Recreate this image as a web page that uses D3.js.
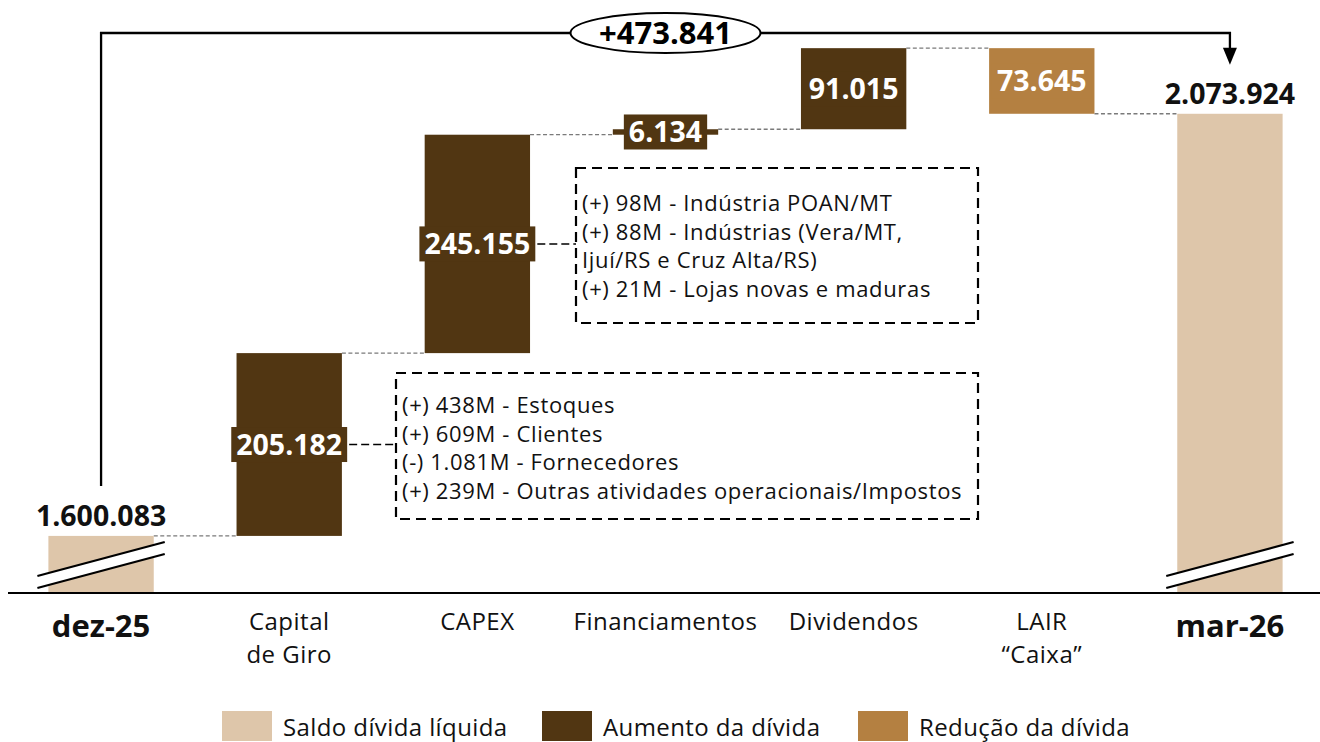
<!DOCTYPE html>
<html><head><meta charset="utf-8">
<script src="https://cdn.jsdelivr.net/npm/d3@7"></script>
<style>
html,body{margin:0;padding:0;background:#fff;}
svg{display:block;font-family:"Open Sans","Noto Sans",sans-serif;}
</style></head>
<body><svg id="chart" width="1320" height="742"></svg>
<script>
// ---- data ----
const categories = ["dez-25","Capital de Giro","CAPEX","Financiamentos","Dividendos","LAIR “Caixa”","mar-26"];
const categoryLines = [["dez-25"],["Capital","de Giro"],["CAPEX"],["Financiamentos"],["Dividendos"],["LAIR","“Caixa”"],["mar-26"]];
const types = ["total","increase","increase","increase","increase","decrease","total"];
const values = [1600083, 205182, 245155, 6134, 91015, 73645, 2073924];
const valueLabels = ["1.600.083","205.182","245.155","6.134","91.015","73.645","2.073.924"];
const totalChange = "+473.841";
const capexNotes = ["(+) 98M - Indústria POAN/MT","(+) 88M - Indústrias (Vera/MT,","Ijuí/RS e Cruz Alta/RS)","(+) 21M - Lojas novas e maduras"];
const giroNotes = ["(+) 438M - Estoques","(+) 609M - Clientes","(-) 1.081M - Fornecedores","(+) 239M - Outras atividades operacionais/Impostos"];
const legendLabels = ["Saldo dívida líquida","Aumento da dívida","Redução da dívida"];
const legendTypes = ["total","increase","decrease"];

const colors = {total:"#DEC6AA", increase:"#513612", decrease:"#B48041"};

// ---- compute waterfall ----
let run = 0;
const bars = categories.map((c,i)=>{
  let start, end;
  if (types[i]==="total"){ start = null; end = values[i]; run = values[i]; }
  else if (types[i]==="increase"){ start = run; end = run + values[i]; run = end; }
  else { start = run; end = run - values[i]; run = end; }
  return {cat:c, lines:categoryLines[i], type:types[i], start, end, label:valueLabels[i], i};
});

const svg = d3.select("#chart");
const x = d3.scaleBand().domain(categories).range([7,1324]).paddingInner(0.44).paddingOuter(0.22);
const y = d3.scaleLinear().domain([1536000, 2150000]).range([593, 46]);
const baseY = y.range()[0];

// ---- dashed connectors ----
for (let k=0;k<bars.length-1;k++){
  const b = bars[k], n = bars[k+1];
  const lvl = b.end;
  svg.append("line")
    .attr("x1", x(b.cat)+x.bandwidth()).attr("x2", x(n.cat))
    .attr("y1", y(lvl)).attr("y2", y(lvl))
    .attr("stroke","#7a7a7a").attr("stroke-width",1.3).attr("stroke-dasharray","4,2.5");
}

// ---- bars ----
svg.selectAll("rect.bar").data(bars).join("rect").attr("class","bar")
  .attr("x", d=>x(d.cat)).attr("width", x.bandwidth())
  .attr("y", d=> d.type==="total" ? y(d.end) : y(Math.max(d.start,d.end)))
  .attr("height", d=> d.type==="total" ? baseY - y(d.end) : Math.abs(y(d.start)-y(d.end)))
  .attr("fill", d=>colors[d.type]);

// ---- axis break marks ----
bars.filter(d=>d.type==="total").forEach(d=>{
  const x0 = x(d.cat) - 11, x1 = x(d.cat) + x.bandwidth() + 11;
  const ya = baseY - 17, yb = baseY - 51, gap = 12;
  svg.append("path")
    .attr("d", `M${x0},${ya} L${x1},${yb} L${x1},${yb+gap} L${x0},${ya+gap} Z`)
    .attr("fill","#fff");
  svg.append("line").attr("x1",x0).attr("y1",ya).attr("x2",x1).attr("y2",yb).attr("stroke","#000").attr("stroke-width",2.2);
  svg.append("line").attr("x1",x0).attr("y1",ya+gap).attr("x2",x1).attr("y2",yb+gap).attr("stroke","#000").attr("stroke-width",2.2);
});

// ---- baseline axis ----
svg.append("line").attr("x1",8).attr("x2",1320).attr("y1",baseY).attr("y2",baseY)
  .attr("stroke","#000").attr("stroke-width",2.2);

// ---- value labels ----
const labelBoxes = {};
bars.forEach(d=>{
  const cx = x(d.cat) + x.bandwidth()/2;
  if (d.type==="total"){
    svg.append("text").attr("x",cx).attr("y", y(d.end)-10)
      .attr("text-anchor","middle").attr("font-size",28.5).attr("font-weight",700).attr("fill","#111")
      .text(d.label);
  } else {
    const cy = (y(d.start)+y(d.end))/2;
    const g = svg.append("g");
    const t = g.append("text").attr("x",cx).attr("y",cy).attr("dy","0.36em")
      .attr("text-anchor","middle").attr("font-size",28.5).attr("font-weight",700).attr("fill","#fff")
      .text(d.label);
    const bb = t.node().getBBox();
    const bw = bb.width + 10, bh = 35;
    g.insert("rect","text").attr("x",cx-bw/2).attr("y",cy-bh/2).attr("width",bw).attr("height",bh)
      .attr("fill",colors[d.type]);
    labelBoxes[d.cat] = {x0:cx-bw/2, x1:cx+bw/2, cy};
  }
});

// ---- category labels ----
bars.forEach(d=>{
  const cx = x(d.cat) + x.bandwidth()/2;
  const bold = d.type==="total";
  const t = svg.append("text").attr("x",cx).attr("y", bold?637:630)
    .attr("text-anchor","middle").attr("font-size", bold?31:24).attr("font-weight", bold?700:400)
    .attr("letter-spacing", bold?0:0.5).attr("fill","#111");
  d.lines.forEach((l,j)=> t.append("tspan").attr("x",cx).attr("dy", j===0?0:33).text(l));
});

// ---- total change bracket ----
const first = bars[0], last = bars[bars.length-1];
const fx = x(first.cat)+x.bandwidth()/2, lx = x(last.cat)+x.bandwidth()/2;
const topY = 33;
svg.append("path")
  .attr("d", `M${fx},${y(first.end)-50} V${topY} H${lx} V${y(last.end)-62}`)
  .attr("fill","none").attr("stroke","#000").attr("stroke-width",2.3);
svg.append("path")
  .attr("d", `M${lx-7},${y(last.end)-66} L${lx+7},${y(last.end)-66} L${lx},${y(last.end)-49} Z`)
  .attr("fill","#000");
const mx = (fx+lx)/2;
svg.append("ellipse").attr("cx",mx).attr("cy",topY).attr("rx",95).attr("ry",20)
  .attr("fill","#fff").attr("stroke","#000").attr("stroke-width",2);
svg.append("text").attr("x",mx).attr("y",topY).attr("dy","0.36em").attr("text-anchor","middle")
  .attr("font-size",31).attr("font-weight",700).attr("fill","#000").text(totalChange);

// ---- annotation boxes ----
function noteBox(cat, notes, bx0, by0, bx1, by1, firstBase){
  const lb = labelBoxes[cat];
  svg.append("line").attr("x1",lb.x1+2).attr("x2",bx0).attr("y1",lb.cy).attr("y2",lb.cy)
    .attr("stroke","#000").attr("stroke-width",1.5).attr("stroke-dasharray","8,4");
  svg.append("rect").attr("x",bx0).attr("y",by0).attr("width",bx1-bx0).attr("height",by1-by0)
    .attr("fill","none").attr("stroke","#000").attr("stroke-width",2.2).attr("stroke-dasharray","10,6");
  const t = svg.append("text").attr("x",bx0+6).attr("y",firstBase).attr("font-size",22)
    .attr("letter-spacing",0.65).attr("fill","#111");
  notes.forEach((n,j)=> t.append("tspan").attr("x",bx0+6).attr("dy", j===0?0:28.7).text(n));
}
noteBox("CAPEX", capexNotes, 576, 168, 978, 323, 211);
noteBox("Capital de Giro", giroNotes, 396, 373, 978, 519, 413);

// ---- legend ----
const legX = [222, 542, 858];
legendLabels.forEach((l,i)=>{
  svg.append("rect").attr("x",legX[i]).attr("y",711).attr("width",50).attr("height",30).attr("fill",colors[legendTypes[i]]);
  svg.append("text").attr("x",legX[i]+61).attr("y",736).attr("font-size",24)
    .attr("letter-spacing",0.4).attr("fill","#111").text(l);
});
</script></body></html>
